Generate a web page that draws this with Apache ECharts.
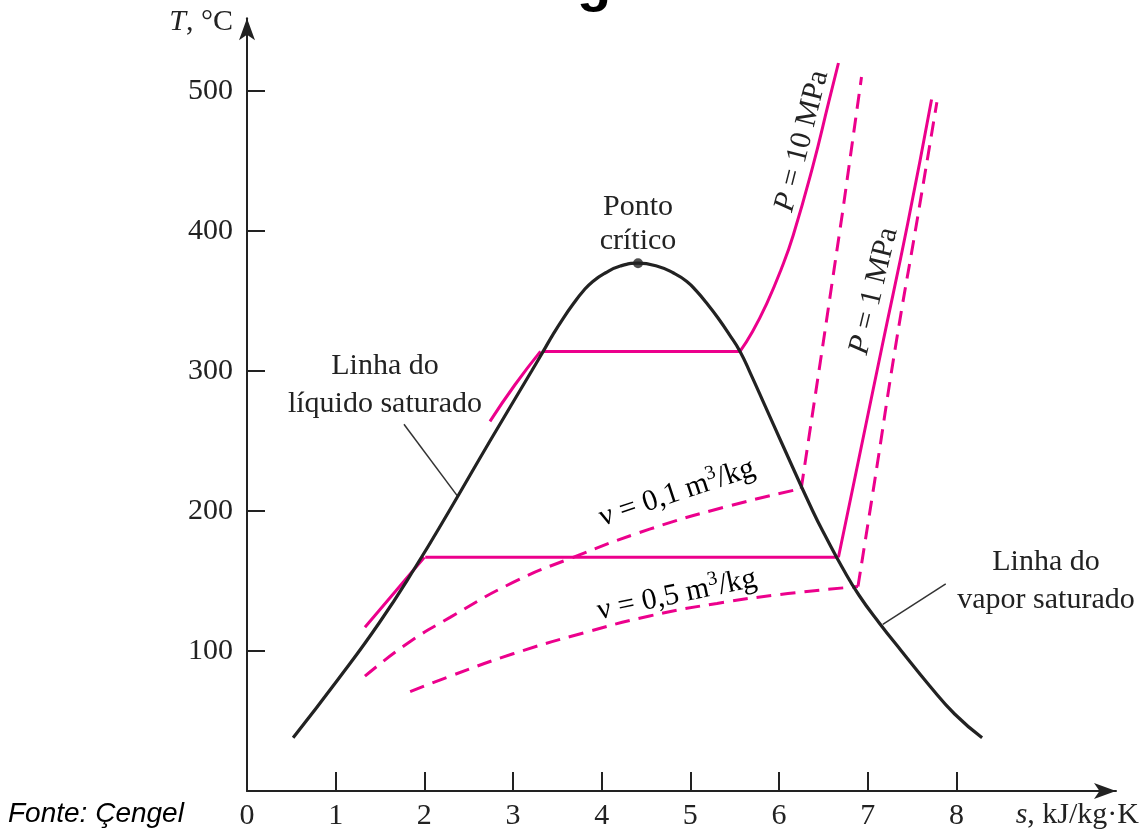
<!DOCTYPE html>
<html>
<head>
<meta charset="utf-8">
<script src="https://cdn.jsdelivr.net/npm/echarts@6/dist/echarts.min.js"></script>
<style>html,body{margin:0;padding:0;background:#fff;}#c{width:1142px;height:834px;}</style>
</head>
<body>
<div id="c"></div>
<script>
// ---- data (s in kJ/kg·K, T in °C) ----
const xTicks = [1, 2, 3, 4, 5, 6, 7, 8];
const xLabels = [0, 1, 2, 3, 4, 5, 6, 7, 8];
const yTicks = [100, 200, 300, 400, 500];

const domeS = [0.52, 1.03, 1.49, 1.90, 2.28, 2.74, 3.21, 3.34, 3.45, 3.57, 3.68, 3.79, 3.90, 4.04, 4.21, 4.41, 4.62, 4.81, 4.96, 5.07, 5.19, 5.31, 5.44, 5.56, 5.68, 5.85, 6.02, 6.38, 6.54, 6.71, 6.90, 7.13, 7.38, 7.70, 7.98, 8.29];
const domeT = [38, 80, 120, 160, 200, 250, 300, 314, 326, 338, 348, 357, 364, 370, 375, 377, 375, 370, 364, 357, 348, 338, 326, 314, 298, 274, 250, 200, 180, 160, 140, 120, 100, 75, 55, 38];

const critS = [4.41];
const critT = [377];

const p10LiqS = [2.74, 3.02, 3.31];
const p10LiqT = [264, 290, 314];
const p10SatS = [3.33, 5.56];
const p10SatT = [314, 314];
const p10VapS = [5.56, 5.70, 5.86, 6.02, 6.16, 6.38, 6.56, 6.67];
const p10VapT = [314, 328, 348, 372, 397, 446, 492, 520];

const p1LiqS = [1.33, 1.68, 2.00];
const p1LiqT = [117, 143, 167];
const p1SatS = [2.01, 6.67];
const p1SatT = [167, 167];
const p1VapS = [6.67, 6.85, 7.16, 7.45, 7.72];
const p1VapT = [167, 222, 317, 405, 494];

const v01S = [1.33, 1.80, 2.29, 3.00, 3.64, 4.54, 5.40, 6.25];
const v01T = [82, 105, 124, 149, 166, 187, 203, 216];
const v01UpS = [6.25, 6.50, 6.72, 6.93];
const v01UpT = [216, 321, 415, 510];

const v05S = [1.84, 2.29, 3.00, 3.80, 4.54, 5.30, 6.10, 6.89];
const v05T = [71, 82, 98, 113, 125, 134, 141, 146];
const v05UpS = [6.89, 7.08, 7.32, 7.55, 7.78];
const v05UpT = [146, 222, 320, 405, 492];

const leadLiqS = [1.77, 2.37];
const leadLiqT = [262, 211];
const leadVapS = [7.88, 7.17];
const leadVapT = [148, 119];

function zip(a, b) { return a.map((v, i) => [v, b[i]]); }

const PINK = '#ec008c';
const INK = '#222222';
const SERIF = 'Liberation Serif';
const SMOOTH = 0.5;

function pinkLine(name, s, t, dashed, smooth) {
  return {
    name: name, type: 'line', data: zip(s, t), showSymbol: false,
    smooth: smooth ? SMOOTH : false,
    lineStyle: { color: PINK, width: 3, type: dashed ? [15, 9] : 'solid', cap: 'butt' },
    silent: true, z: 3
  };
}

const chart = echarts.init(document.getElementById('c'), null, { renderer: 'canvas' });

const supRich = {
  n: { fontFamily: SERIF, fontSize: 30, color: INK, lineHeight: 36 },
  sup: { fontFamily: SERIF, fontSize: 20, color: INK, lineHeight: 36, verticalAlign: 'top' }
};

const option = {
  animation: false,
  backgroundColor: '#ffffff',
  grid: { left: 247, right: 25.7, top: 18.2, bottom: 43, containLabel: false },
  xAxis: {
    type: 'value', min: 0, max: 9.8,
    name: '{i|s}, kJ/kg·K', nameLocation: 'end', nameGap: 23,
    nameTextStyle: { fontFamily: SERIF, fontSize: 30, color: INK, align: 'right', verticalAlign: 'top', padding: [9, 0, 0, 0],
      rich: { i: { fontFamily: SERIF, fontSize: 30, fontStyle: 'italic', color: INK } } },
    axisLine: { show: true, lineStyle: { color: INK, width: 2 }, symbol: ['none', 'arrow'], symbolSize: [12, 22] },
    axisTick: { show: true, inside: true, length: 19, lineStyle: { color: INK, width: 2 }, customValues: xTicks },
    axisLabel: { show: true, margin: 10, fontFamily: SERIF, fontSize: 30, color: INK, customValues: xLabels },
    splitLine: { show: false }
  },
  yAxis: {
    type: 'value', min: 0, max: 552,
    name: '{i|T}, °C', nameLocation: 'end', nameGap: -4,
    nameTextStyle: { fontFamily: SERIF, fontSize: 30, color: INK, align: 'right', verticalAlign: 'middle', padding: [0, 14, 0, 0],
      rich: { i: { fontFamily: SERIF, fontSize: 30, fontStyle: 'italic', color: INK } } },
    axisLine: { show: true, lineStyle: { color: INK, width: 2 }, symbol: ['none', 'arrow'], symbolSize: [12, 22] },
    axisTick: { show: true, inside: true, length: 18, lineStyle: { color: INK, width: 2 }, customValues: yTicks },
    axisLabel: { show: true, margin: 14, fontFamily: SERIF, fontSize: 30, color: INK, customValues: yTicks },
    splitLine: { show: false }
  },
  series: [
    pinkLine('P=10 MPa líquido', p10LiqS, p10LiqT, false, true),
    pinkLine('P=10 MPa saturado', p10SatS, p10SatT, false, false),
    pinkLine('P=10 MPa vapor', p10VapS, p10VapT, false, true),
    pinkLine('P=1 MPa líquido', p1LiqS, p1LiqT, false, true),
    pinkLine('P=1 MPa saturado', p1SatS, p1SatT, false, false),
    pinkLine('P=1 MPa vapor', p1VapS, p1VapT, false, true),
    pinkLine('v=0,1', v01S, v01T, true, true),
    pinkLine('v=0,1 vapor', v01UpS, v01UpT, true, false),
    pinkLine('v=0,5', v05S, v05T, true, true),
    pinkLine('v=0,5 vapor', v05UpS, v05UpT, true, true),
    {
      name: 'Domo', type: 'line', data: zip(domeS, domeT), showSymbol: false, smooth: SMOOTH,
      lineStyle: { color: INK, width: 3.2 }, silent: true, z: 4
    },
    {
      name: 'Guia líquido', type: 'line', data: zip(leadLiqS, leadLiqT), showSymbol: false,
      lineStyle: { color: '#333', width: 1.5 }, silent: true, z: 2
    },
    {
      name: 'Guia vapor', type: 'line', data: zip(leadVapS, leadVapT), showSymbol: false,
      lineStyle: { color: '#333', width: 1.5 }, silent: true, z: 2
    },
    {
      name: 'Ponto crítico', type: 'scatter', data: zip(critS, critT), symbol: 'circle', symbolSize: 10,
      itemStyle: { color: INK }, silent: true, z: 5
    }
  ],
  graphic: [
    { type: 'text', left: 8, top: 800, style: { text: 'Fonte: Çengel', font: 'italic 28px "Liberation Sans"', fill: '#000' } },
    { type: 'text', x: 594, y: 13, style: { text: 'g', font: 'bold 56px "Liberation Sans"', fill: '#000', align: 'center', verticalAlign: 'bottom' } },
    { type: 'text', x: 638, y: 224, style: { text: 'Ponto\ncrítico', font: '30px "Liberation Serif"', lineHeight: 34, fill: INK, align: 'center', verticalAlign: 'middle' } },
    { type: 'text', x: 385, y: 385, style: { text: 'Linha do\nlíquido saturado', font: '30px "Liberation Serif"', lineHeight: 38, fill: INK, align: 'center', verticalAlign: 'middle' } },
    { type: 'text', x: 1046, y: 581, style: { text: 'Linha do\nvapor saturado', font: '30px "Liberation Serif"', lineHeight: 38, fill: INK, align: 'center', verticalAlign: 'middle' } },
    { type: 'text', x: 802, y: 141, rotation: 75.7 * Math.PI / 180,
      style: { text: '{i|P} = 10 MPa', font: '30px "Liberation Serif"', fill: INK, align: 'center', verticalAlign: 'middle',
        rich: { i: { font: 'italic 30px "Liberation Serif"', fill: INK } } } },
    { type: 'text', x: 874, y: 291, rotation: 76.4 * Math.PI / 180,
      style: { text: '{i|P} = 1 MPa', font: '30px "Liberation Serif"', fill: INK, align: 'center', verticalAlign: 'middle',
        rich: { i: { font: 'italic 30px "Liberation Serif"', fill: INK } } } },
    { type: 'text', x: 677, y: 493, rotation: 18.3 * Math.PI / 180,
      style: { text: '{n|ν = 0,1 m}{sup|3}{n|/kg}', align: 'center', verticalAlign: 'middle', rich: supRich } },
    { type: 'text', x: 677, y: 595, rotation: 11.8 * Math.PI / 180,
      style: { text: '{n|ν = 0,5 m}{sup|3}{n|/kg}', align: 'center', verticalAlign: 'middle', rich: supRich } }
  ]
};

chart.setOption(option);
</script>
</body>
</html>
